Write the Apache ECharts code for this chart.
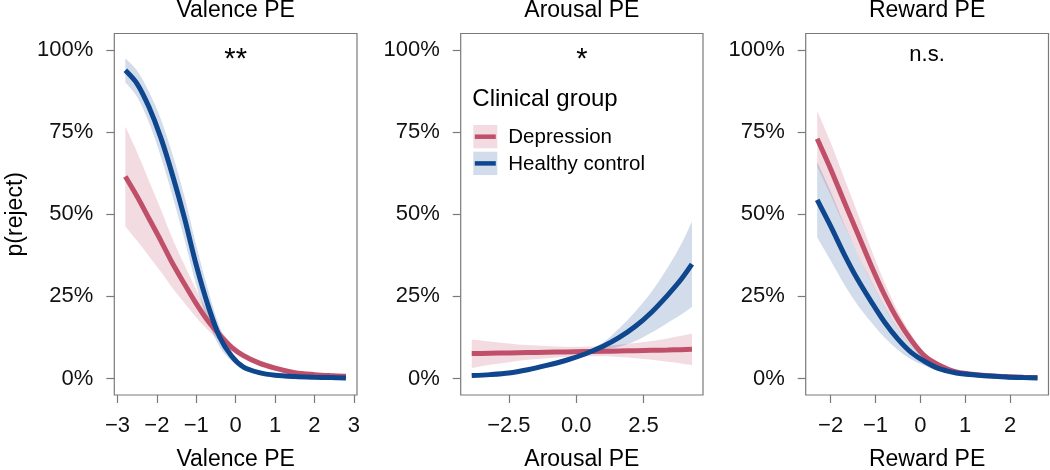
<!DOCTYPE html>
<html><head><meta charset="utf-8">
<script src="https://cdn.jsdelivr.net/npm/echarts@6/dist/echarts.min.js"></script>
<style>html,body{margin:0;padding:0;background:#fff}#c{width:1050px;height:470px}</style>
</head><body><div id="c"></div>
<script>
// ---------- data ----------
const valenceX     = [-2.8, -2.5, -2.2, -1.9, -1.6, -1.3, -1.0, -0.7, -0.4, -0.1, 0.2, 0.6, 1.0, 1.5, 2.0, 2.4, 2.8];
const valenceDep   = [0.615, 0.554, 0.487, 0.420, 0.350, 0.288, 0.228, 0.175, 0.132, 0.095, 0.070, 0.047, 0.032, 0.018, 0.012, 0.009, 0.007];
const valenceDepHi = [0.767, 0.689, 0.602, 0.515, 0.425, 0.346, 0.270, 0.203, 0.150, 0.107, 0.080, 0.056, 0.040, 0.025, 0.018, 0.014, 0.012];
const valenceDepLo = [0.463, 0.419, 0.372, 0.325, 0.275, 0.230, 0.186, 0.147, 0.114, 0.083, 0.060, 0.038, 0.024, 0.011, 0.006, 0.004, 0.002];
const valenceHC    = [0.938, 0.897, 0.826, 0.733, 0.618, 0.489, 0.345, 0.222, 0.125, 0.068, 0.035, 0.018, 0.010, 0.006, 0.004, 0.003, 0.002];
const valenceHCHi  = [0.975, 0.937, 0.873, 0.790, 0.681, 0.554, 0.405, 0.270, 0.155, 0.083, 0.043, 0.023, 0.014, 0.009, 0.006, 0.005, 0.004];
const valenceHCLo  = [0.901, 0.857, 0.779, 0.676, 0.555, 0.424, 0.285, 0.174, 0.095, 0.053, 0.027, 0.013, 0.006, 0.003, 0.002, 0.001, 0.000];

const arousalX     = [-3.88, -3.2, -2.5, -1.8, -1.1, -0.4, 0.3, 1.0, 1.6, 2.2, 2.8, 3.4, 3.9, 4.3];
const arousalDep   = [0.076, 0.077, 0.078, 0.079, 0.080, 0.081, 0.082, 0.083, 0.084, 0.085, 0.086, 0.087, 0.088, 0.089];
const arousalDepHi = [0.119, 0.113, 0.107, 0.102, 0.099, 0.097, 0.097, 0.099, 0.103, 0.108, 0.114, 0.122, 0.130, 0.137];
const arousalDepLo = [0.032, 0.042, 0.050, 0.057, 0.062, 0.066, 0.068, 0.068, 0.066, 0.062, 0.057, 0.051, 0.046, 0.041];
const arousalHC    = [0.009, 0.012, 0.017, 0.027, 0.040, 0.055, 0.074, 0.098, 0.125, 0.159, 0.202, 0.254, 0.302, 0.348];
const arousalHCHi  = [0.015, 0.018, 0.023, 0.033, 0.046, 0.061, 0.081, 0.110, 0.153, 0.204, 0.264, 0.338, 0.409, 0.478];
const arousalHCLo  = [0.003, 0.006, 0.011, 0.021, 0.034, 0.049, 0.067, 0.086, 0.097, 0.114, 0.140, 0.170, 0.195, 0.218];

const rewardX      = [-2.3, -2.0, -1.7, -1.4, -1.1, -0.8, -0.5, -0.2, 0.1, 0.4, 0.8, 1.3, 1.9, 2.3, 2.61];
const rewardDep    = [0.730, 0.638, 0.539, 0.442, 0.345, 0.255, 0.178, 0.116, 0.068, 0.042, 0.020, 0.011, 0.006, 0.004, 0.003];
const rewardDepHi  = [0.815, 0.718, 0.611, 0.504, 0.395, 0.293, 0.205, 0.134, 0.079, 0.049, 0.024, 0.014, 0.008, 0.006, 0.005];
const rewardDepLo  = [0.645, 0.558, 0.467, 0.380, 0.295, 0.217, 0.151, 0.098, 0.057, 0.035, 0.016, 0.008, 0.004, 0.002, 0.001];
const rewardHC     = [0.544, 0.464, 0.379, 0.302, 0.235, 0.172, 0.120, 0.079, 0.052, 0.031, 0.017, 0.010, 0.005, 0.003, 0.002];
const rewardHCHi   = [0.659, 0.569, 0.471, 0.380, 0.298, 0.219, 0.153, 0.100, 0.065, 0.039, 0.022, 0.013, 0.007, 0.005, 0.004];
const rewardHCLo   = [0.429, 0.359, 0.287, 0.224, 0.172, 0.125, 0.087, 0.058, 0.039, 0.023, 0.012, 0.007, 0.003, 0.001, 0.000];

const panelTitles  = ['Valence PE', 'Arousal PE', 'Reward PE'];
const significance = ['**', '*', 'n.s.'];
const yTicks       = [0, 0.25, 0.5, 0.75, 1];
const valenceTicks = [-3, -2, -1, 0, 1, 2, 3];
const arousalTicks = [-2.5, 0, 2.5];
const rewardTicks  = [-2, -1, 0, 1, 2];
const groupNames   = ['Depression', 'Healthy control'];
const legendTitle  = 'Clinical group';

// ---------- styling / layout ----------
const FONT = '"Liberation Sans", Arial, Helvetica, sans-serif';
const RED = '#C0506A', BLUE = '#0F478E';
const RED_BAND = 'rgba(192,80,106,0.2)', BLUE_BAND = 'rgba(15,71,142,0.19)';
const grids = [
  {left: 114.3, top: 33.5, width: 242.7, height: 361.5},
  {left: 460.7, top: 33.5, width: 242.3, height: 361.5},
  {left: 805.7, top: 33.5, width: 242.8, height: 361.5}
];
const panels = [
  {x: valenceX, dep: valenceDep, depHi: valenceDepHi, depLo: valenceDepLo, hc: valenceHC, hcHi: valenceHCHi, hcLo: valenceHCLo, min: -3.08, max: 3.08, ticks: valenceTicks, dec: 0},
  {x: arousalX, dep: arousalDep, depHi: arousalDepHi, depLo: arousalDepLo, hc: arousalHC, hcHi: arousalHCHi, hcLo: arousalHCLo, min: -4.29, max: 4.71, ticks: arousalTicks, dec: 1},
  {x: rewardX, dep: rewardDep, depHi: rewardDepHi, depLo: rewardDepLo, hc: rewardHC, hcHi: rewardHCHi, hcLo: rewardHCLo, min: -2.556, max: 2.856, ticks: rewardTicks, dec: 0}
];

function fmtNum(v, dec) {
  const s = Math.abs(v).toFixed(dec);
  return v < 0 ? '\u2212' + s : s;
}
// Catmull-Rom through screen points -> cubic bezier path commands (rendering only)
function crPath(pts, start) {
  let d = start ? 'M' + pts[0][0] + ',' + pts[0][1] : 'L' + pts[0][0] + ',' + pts[0][1];
  for (let i = 0; i < pts.length - 1; i++) {
    const p0 = pts[Math.max(0, i - 1)], p1 = pts[i], p2 = pts[i + 1], p3 = pts[Math.min(pts.length - 1, i + 2)];
    const c1 = [p1[0] + (p2[0] - p0[0]) / 6, p1[1] + (p2[1] - p0[1]) / 6];
    const c2 = [p2[0] - (p3[0] - p1[0]) / 6, p2[1] - (p3[1] - p1[1]) / 6];
    d += 'C' + c1[0] + ',' + c1[1] + ' ' + c2[0] + ',' + c2[1] + ' ' + p2[0] + ',' + p2[1];
  }
  return d;
}
function band(gi, xs, lo, hi, color) {
  return {
    type: 'custom', xAxisIndex: gi, yAxisIndex: gi, clip: true, silent: true, z: 1,
    data: [[xs[0], lo[0]]],
    renderItem: function (params, api) {
      const up = xs.map((x, i) => api.coord([x, hi[i]]));
      const dn = xs.map((x, i) => api.coord([x, lo[i]])).reverse();
      const d = crPath(up, true) + crPath(dn, false) + 'Z';
      return {type: 'path', shape: {pathData: d}, style: {fill: color}};
    }
  };
}
function line(gi, xs, ys, color, name) {
  return {
    type: 'line', name: name, xAxisIndex: gi, yAxisIndex: gi, z: 3,
    data: xs.map((x, i) => [x, ys[i]]),
    smooth: 0.3, showSymbol: false, symbol: 'none', silent: true,
    lineStyle: {color: color, width: 5, cap: 'butt'}
  };
}

const xAxes = [], yAxes = [], series = [], graphics = [];
panels.forEach((p, gi) => {
  xAxes.push({
    type: 'value', gridIndex: gi, min: p.min, max: p.max,
    name: panelTitles[gi], nameLocation: 'middle', nameGap: 53,
    nameTextStyle: {fontFamily: FONT, fontSize: 23, color: '#000'},
    axisLine: {show: false, onZero: false},
    splitLine: {show: false},
    axisTick: {show: true, customValues: p.ticks, length: 8, lineStyle: {color: '#7a7a7a', width: 1.2}},
    axisLabel: {customValues: p.ticks, formatter: v => fmtNum(v, p.dec), fontFamily: FONT, fontSize: 22, color: '#111', margin: 20}
  });
  yAxes.push({
    type: 'value', gridIndex: gi, min: -0.05, max: 1.05,
    name: gi === 0 ? 'p(reject)' : '', nameLocation: 'middle', nameGap: 87,
    nameTextStyle: {fontFamily: FONT, fontSize: 23, color: '#000'},
    axisLine: {show: false, onZero: false},
    splitLine: {show: false},
    axisTick: {show: true, customValues: yTicks, length: 8, lineStyle: {color: '#7a7a7a', width: 1.2}},
    axisLabel: {customValues: yTicks, formatter: v => Math.round(v * 100) + '%', fontFamily: FONT, fontSize: 22, color: '#111', margin: 21}
  });
  series.push(band(gi, p.x, p.depLo, p.depHi, RED_BAND));
  series.push(band(gi, p.x, p.hcLo, p.hcHi, BLUE_BAND));
  series.push(line(gi, p.x, p.dep, RED, groupNames[0]));
  series.push(line(gi, p.x, p.hc, BLUE, groupNames[1]));
  const g = grids[gi], cx = g.left + g.width / 2;
  graphics.push({type: 'text', x: cx, y: 11, style: {text: panelTitles[gi], font: '23px ' + FONT, fill: '#000', align: 'center', verticalAlign: 'middle'}});
  const isStar = significance[gi].indexOf('*') >= 0;
  graphics.push({type: 'text', x: cx, y: isStar ? 60 : 55, style: {text: significance[gi], font: (isStar ? '29px ' : '22px ') + FONT, fill: '#000', align: 'center', verticalAlign: 'middle'}});
});

// legend (drawn in panel 2)
const lg = {x: 473.3, y: 125};
graphics.push({type: 'text', x: lg.x - 1, y: 99.5, style: {text: legendTitle, font: '24px ' + FONT, fill: '#000', align: 'left', verticalAlign: 'middle'}});
[[RED_BAND, RED, groupNames[0]], [BLUE_BAND, BLUE, groupNames[1]]].forEach((it, i) => {
  const y0 = lg.y + i * 26.7;
  graphics.push({type: 'rect', shape: {x: lg.x, y: y0, width: 24, height: 23.3}, style: {fill: it[0]}});
  graphics.push({type: 'line', shape: {x1: lg.x + 1.5, y1: y0 + 11.7, x2: lg.x + 22.5, y2: y0 + 11.7}, style: {stroke: it[1], lineWidth: 4.5}});
  graphics.push({type: 'text', x: 508.3, y: y0 + 12.5, style: {text: it[2], font: '20.5px ' + FONT, fill: '#000', align: 'left', verticalAlign: 'middle'}});
});

const chart = echarts.init(document.getElementById('c'), null, {renderer: 'canvas'});
chart.setOption({
  animation: false,
  backgroundColor: '#fff',
  grid: grids.map(g => Object.assign({show: true, borderColor: '#7a7a7a', borderWidth: 1.2, backgroundColor: 'transparent', containLabel: false, outerBoundsMode: 'none'}, g)),
  xAxis: xAxes,
  yAxis: yAxes,
  series: series,
  graphic: graphics
});
</script>
</body></html>
